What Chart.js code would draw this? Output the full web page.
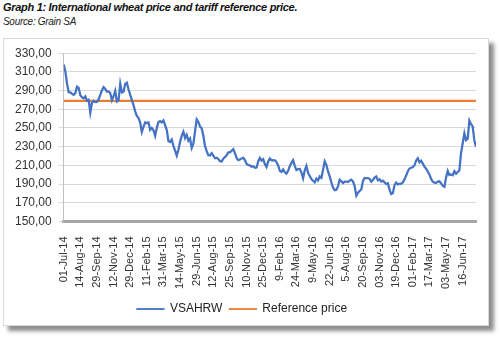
<!DOCTYPE html>
<html>
<head>
<meta charset="utf-8">
<script src="https://cdn.jsdelivr.net/npm/chart.js@4/dist/chart.umd.min.js"></script>
<style>
    body { margin: 0; width: 500px; height: 337px; background: #fff; font-family: "Liberation Sans", Arial, sans-serif; position: relative; overflow: hidden; }
    .title { position: absolute; left: 3px; top: 1px; font-size: 11px; letter-spacing: -0.3px; font-weight: bold; font-style: italic; color: #111; }
    .source { position: absolute; left: 3px; top: 16px; font-size: 10px; letter-spacing: -0.3px; font-style: italic; color: #222; }
    .box { position: absolute; left: 3px; top: 38px; width: 484px; height: 286px; border: 1px solid #d9d9d9; background: #fff; box-shadow: 5px 5px 4px rgba(0, 0, 0, 0.45); }
    .box canvas { position: absolute; left: 0; top: 0; }
</style>
</head>
<body>
<div class="title">Graph 1: International wheat price and tariff reference price.</div>
<div class="source">Source: Grain SA</div>
<div class="box"><canvas id="wheatChart" width="484" height="286"></canvas></div>
<script>
// one date label every 10 points
const tickDates = ['01-Jul-14', '14-Aug-14', '29-Sep-14', '12-Nov-14', '29-Dec-14', '11-Feb-15', '31-Mar-15',
    '14-May-15', '29-Jun-15', '12-Aug-15', '25-Sep-15', '10-Nov-15', '25-Dec-15', '9-Feb-16', '24-Mar-16',
    '9-May-16', '22-Jun-16', '5-Aug-16', '20-Sep-16', '03-Nov-16', '19-Dec-16', '01-Feb-17', '17-Mar-17',
    '03-May-17', '16-Jun-17'];
const labelEvery = 10;

const vsahrw = [
    317.8, 310.4, 297.4, 288.2, 288, 286.6, 285.4, 287.3, 294.2, 292.8,
    285, 282.7, 281.7, 283.7, 279.2, 280.1, 266.5, 277, 279, 277.6,
    277.8, 280.5, 285.3, 290.4, 293.7, 291.8, 288.9, 289, 287.4, 279.6,
    284, 289.7, 278.3, 279.6, 297.4, 288, 288.8, 297.2, 298.5, 291.2,
    285.5, 279.8, 274.4, 267.8, 262.8, 260.6, 255.8, 245.6, 251.3, 255.9,
    255.2, 255.8, 248, 249.9, 247.6, 241.5, 250.1, 256.3, 257.4, 255.9,
    258, 253.1, 247.8, 236.1, 235, 237.6, 230.9, 225.8, 220.4, 226.6,
    235, 241.7, 245.9, 239.1, 242.7, 236.4, 238.7, 228.7, 233.1, 246.3,
    259.2, 256.5, 251.5, 249.6, 241.6, 230.7, 225.2, 220.8, 220.5, 223,
    220.3, 217.6, 218.2, 216.7, 214.5, 214.1, 217.2, 218.9, 220.8, 223.9,
    223.9, 225.6, 227.3, 223, 218, 215.5, 216.3, 217.2, 218.2, 215.7,
    211.4, 210.4, 210, 208.5, 209, 207.4, 207.6, 214.2, 218, 215.1,
    216.6, 211.4, 208.1, 214.2, 217.4, 215.3, 215.6, 215.4, 213.5, 209.8,
    204.1, 203, 205.7, 202.5, 201.2, 204.2, 209.1, 212.6, 215.5, 209.5,
    204.9, 206, 206.2, 202.3, 196.2, 204.8, 209.5, 201.9, 198.6, 195.3,
    193.5, 191.8, 195.8, 193.8, 198.2, 196.6, 205.1, 214.3, 210.4, 203.5,
    198.2, 191.9, 186.3, 183.4, 183.9, 187.5, 194.5, 192.9, 190.9, 192.6,
    192.7, 192.1, 193.6, 194.7, 192.9, 187.8, 177.5, 180.8, 182.6, 184.3,
    193.2, 196.4, 196.2, 196.2, 195.6, 192.5, 194.4, 196.9, 198.1, 193.9,
    195.1, 192.6, 193.6, 191.8, 190.1, 190.9, 184.1, 179.2, 180.4, 188.9,
    191.6, 189.6, 190.3, 190.5, 191.7, 195, 199.1, 203.7, 206.6, 207.5,
    208.2, 210.1, 215.2, 217.5, 213.2, 214.8, 211.8, 208.6, 206.4, 203.4,
    200.1, 195.5, 192.5, 191.5, 191.2, 192.6, 192.9, 190.7, 188.3, 187,
    197, 204, 199.5, 200.2, 199.4, 203.8, 201, 202.9, 204.6, 223.2,
    233.7, 244.3, 237, 238.6, 257.8, 254.2, 251.7, 236.6, 229.9
];
const referencePrice = 279;

const yMin = 150;
const yMax = 330;
const yStep = 20;

document.addEventListener('DOMContentLoaded', function() {
    const ctx = document.getElementById('wheatChart').getContext('2d');
    const lastIndex = vsahrw.length - 1;

    new Chart(ctx, {
        type: 'line',
        data: {
            datasets: [
                {
                    label: 'VSAHRW',
                    data: vsahrw.map((v, i) => ({ x: i, y: v })),
                    borderColor: '#4472c4',
                    backgroundColor: '#4472c4',
                    borderWidth: 2.25,
                    pointRadius: 0,
                    tension: 0
                },
                {
                    label: 'Reference price',
                    data: [{ x: 0, y: referencePrice }, { x: lastIndex, y: referencePrice }],
                    borderColor: '#ed7d31',
                    backgroundColor: '#ed7d31',
                    borderWidth: 2.25,
                    pointRadius: 0
                }
            ]
        },
        options: {
            responsive: false,
            animation: false,
            layout: { padding: { left: 4, right: 12, top: 5, bottom: 0 } },
            scales: {
                x: {
                    type: 'linear',
                    min: 0,
                    max: lastIndex,
                    grid: { display: false },
                    border: { display: true, color: '#a6a6a6', width: 3 },
                    afterBuildTicks: function(axis) {
                        axis.ticks = tickDates.map((d, i) => ({ value: i * labelEvery }));
                    },
                    ticks: {
                        autoSkip: false,
                        minRotation: 90,
                        maxRotation: 90,
                        padding: 7,
                        color: '#333',
                        font: { family: '"Liberation Sans", Arial', size: 11 },
                        callback: function(value) {
                            return tickDates[Math.round(value / labelEvery)];
                        }
                    }
                },
                y: {
                    min: yMin,
                    max: yMax,
                    grid: { color: '#d9d9d9', lineWidth: 1, tickLength: 5 },
                    border: { color: '#bfbfbf', width: 1 },
                    ticks: {
                        stepSize: yStep,
                        padding: 7,
                        color: '#333',
                        font: { family: '"Liberation Sans", Arial', size: 12 },
                        callback: function(value) {
                            return value.toFixed(2).replace('.', ',');
                        }
                    }
                }
            },
            plugins: {
                legend: {
                    position: 'bottom',
                    labels: {
                        boxWidth: 27,
                        boxHeight: 0.5,
                        padding: 7,
                        color: '#222',
                        font: { family: '"Liberation Sans", Arial', size: 12 },
                        generateLabels: function(chart) {
                            const items = Chart.defaults.plugins.legend.labels.generateLabels(chart);
                            items.forEach(item => { item.lineWidth = 1.25; });
                            return items;
                        }
                    }
                },
                tooltip: { enabled: false }
            }
        }
    });
});
</script>
</body>
</html>
